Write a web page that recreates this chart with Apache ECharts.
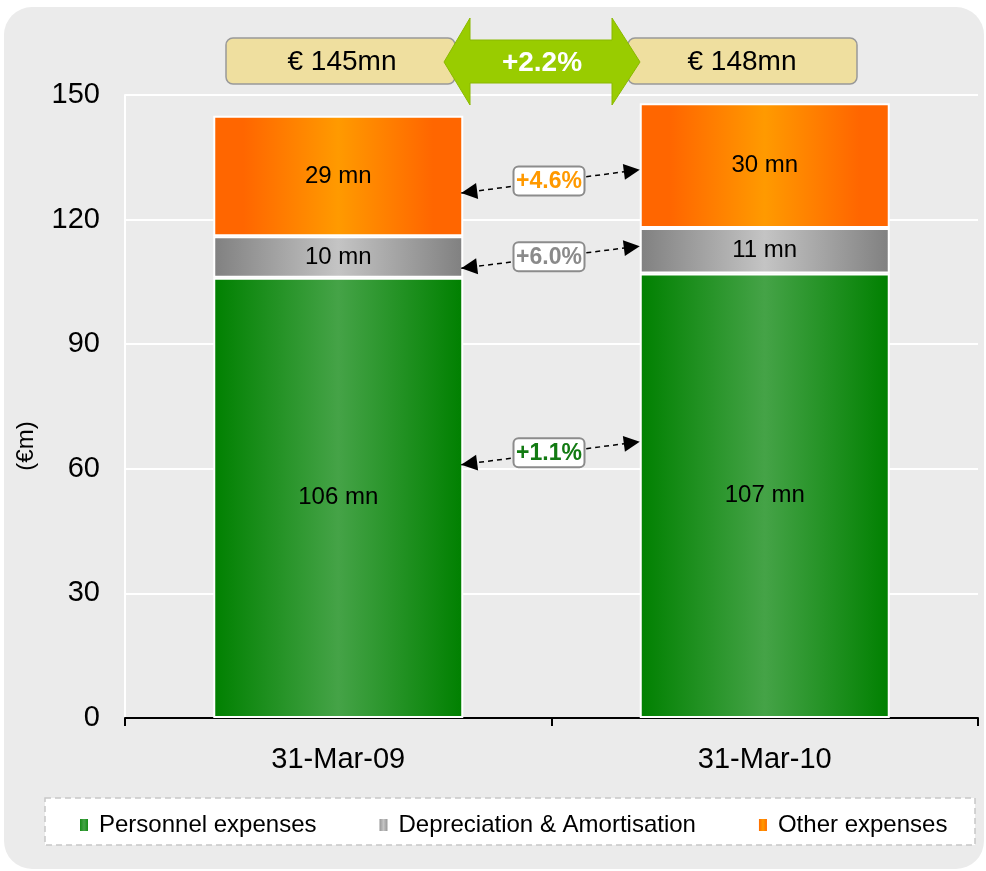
<!DOCTYPE html>
<html>
<head>
<meta charset="utf-8">
<script src="https://cdn.jsdelivr.net/npm/echarts@6/dist/echarts.min.js"></script>
<style>
  html, body { margin: 0; padding: 0; background: #ffffff; }
  #panel { position: absolute; left: 4px; top: 7px; width: 980px; height: 862px;
           background: #ebebeb; border-radius: 28px; }
  #chart { position: absolute; left: 0; top: 0; width: 986px; height: 871px; }
</style>
</head>
<body>
<div id="panel"></div>
<div id="chart"></div>
<script>
// Operating expenses by component (€ mn)
const categories = ['31-Mar-09', '31-Mar-10'];
const personnel = [106, 107];
const depreciation = [10, 11];
const other = [29, 30];
const seriesNames = ['Personnel expenses', 'Depreciation & Amortisation', 'Other expenses'];
const yTicks = { min: 0, max: 150, interval: 30 };
const yAxisTitle = '(€m)';

// Totals and year-on-year changes shown as annotations
const totalLabels = ['€ 145mn', '€ 148mn'];
const totalChange = '+2.2%';
const changeLabels = ['+1.1%', '+6.0%', '+4.6%'];
const changeColors = ['#127a12', '#8a8a8a', '#ff9900'];
// value-axis anchors for the dashed change arrows (left end, right end)
const arrowLeftY = [61, 108.3, 126.4];
const arrowRightY = [66.5, 113.6, 132];

const FONT = 'Liberation Sans, Arial, sans-serif';
const BAR_W = 250;

function hGrad(edge, mid) {
  return new echarts.graphic.LinearGradient(0, 0, 1, 0, [
    { offset: 0, color: edge },
    { offset: 0.12, color: edge },
    { offset: 0.5, color: mid },
    { offset: 0.88, color: edge },
    { offset: 1, color: edge }
  ]);
}
const colPersonnel = new echarts.graphic.LinearGradient(0, 0, 1, 0, [
  { offset: 0, color: '#008000' }, { offset: 0.5, color: '#45a347' }, { offset: 1, color: '#008000' }
]);
const colDep = new echarts.graphic.LinearGradient(0, 0, 1, 0, [
  { offset: 0, color: '#808080' }, { offset: 0.5, color: '#c4c4c4' }, { offset: 1, color: '#808080' }
]);
const colOther = hGrad('#ff6600', '#ff9a00');

function barSeries(name, data, color) {
  return {
    name, type: 'bar', stack: 'total', data, barWidth: BAR_W,
    itemStyle: { color, borderColor: '#ffffff', borderWidth: 2 },
    label: { show: true, position: 'inside', formatter: '{c} mn',
             fontFamily: FONT, fontSize: 24, color: '#000000' },
    emphasis: { disabled: true }
  };
}

const chart = echarts.init(document.getElementById('chart'), null, { renderer: 'canvas' });
chart.setOption({
  backgroundColor: 'transparent',
  animation: false,
  textStyle: { fontFamily: FONT },
  grid: { left: 125, right: 8, top: 95, bottom: 153, containLabel: false },
  xAxis: {
    type: 'category', data: categories,
    axisLine: { lineStyle: { color: '#000000', width: 2 } },
    axisTick: { show: true, length: 8, lineStyle: { color: '#000000', width: 2 } },
    axisLabel: { fontFamily: FONT, fontSize: 29, color: '#000000', margin: 27 }
  },
  yAxis: {
    type: 'value', min: yTicks.min, max: yTicks.max, interval: yTicks.interval,
    axisLine: { show: true, lineStyle: { color: '#ffffff', width: 2 } },
    axisTick: { show: false },
    splitLine: { lineStyle: { color: '#ffffff', width: 2 } },
    axisLabel: { fontFamily: FONT, fontSize: 29, color: '#000000', margin: 25 }
  },
  legend: {
    left: 73, top: 808, icon: 'rect', itemWidth: 10, itemHeight: 14, itemGap: 61,
    textStyle: { fontFamily: FONT, fontSize: 24, color: '#000000', padding: [0, 0, 0, 5] },
    data: seriesNames
  },
  series: [
    barSeries(seriesNames[0], personnel, colPersonnel),
    barSeries(seriesNames[1], depreciation, colDep),
    barSeries(seriesNames[2], other, colOther)
  ]
});

// Annotation layer: axis title, legend frame, total boxes, growth arrow, change markers
const g = [];
g.push({
  type: 'text', z: 5, x: 26, y: 446, rotation: Math.PI / 2,
  style: { text: yAxisTitle, fontFamily: FONT, fontSize: 24, fill: '#000000',
           align: 'center', verticalAlign: 'middle' }
});
g.push({
  type: 'rect', z: -10, shape: { x: 45, y: 798, width: 930, height: 47 },
  style: { fill: '#ffffff', stroke: '#c8c8c8', lineWidth: 1.5, lineDash: [6, 4] }
});

const boxes = [{ x: 226, w: 229 }, { x: 628, w: 229 }];
boxes.forEach((b, i) => {
  g.push({
    type: 'rect', z: 10, shape: { x: b.x, y: 38, width: b.w, height: 46, r: 7 },
    style: { fill: '#efdf9f', stroke: '#999999', lineWidth: 1.5 }
  });
  g.push({
    type: 'text', z: 11, x: i === 0 ? 342 : 742, y: 62,
    style: { text: totalLabels[i], fontFamily: FONT, fontSize: 28, fill: '#000000',
             align: 'center', verticalAlign: 'middle' }
  });
});
g.push({
  type: 'polygon', z: 12,
  shape: { points: [[444, 62], [470, 18], [470, 40], [612, 40], [612, 18], [640, 62],
                    [612, 105], [612, 83], [470, 83], [470, 105]] },
  style: { fill: '#99cc00', stroke: '#8ab800', lineWidth: 1 }
});
g.push({
  type: 'text', z: 13, x: 542, y: 63,
  style: { text: totalChange, fontFamily: FONT, fontSize: 28, fontWeight: 'bold',
           fill: '#ffffff', align: 'center', verticalAlign: 'middle' }
});

const cx0 = chart.convertToPixel({ xAxisIndex: 0 }, categories[0]);
const cx1 = chart.convertToPixel({ xAxisIndex: 0 }, categories[1]);
const xL = cx0 + BAR_W / 2 - 2;
const xR = cx1 - BAR_W / 2;
const mid = (xL + xR) / 2 - 2;

function head(tip, from, len, half) {
  const dx = tip[0] - from[0], dy = tip[1] - from[1];
  const d = Math.hypot(dx, dy), ux = dx / d, uy = dy / d;
  const bx = tip[0] - ux * len, by = tip[1] - uy * len;
  return [tip, [bx - uy * half, by + ux * half], [bx + uy * half, by - ux * half]];
}

changeLabels.forEach((txt, i) => {
  const yl = chart.convertToPixel({ yAxisIndex: 0 }, arrowLeftY[i]);
  const yr = chart.convertToPixel({ yAxisIndex: 0 }, arrowRightY[i]);
  const a = [xL, yl], b = [xR, yr];
  g.push({
    type: 'line', z: 14, shape: { x1: a[0], y1: a[1], x2: b[0], y2: b[1] },
    style: { stroke: '#000000', lineWidth: 1.5, lineDash: [5, 4] }
  });
  g.push({ type: 'polygon', z: 15, shape: { points: head(a, b, 16, 8) }, style: { fill: '#000000' } });
  g.push({ type: 'polygon', z: 15, shape: { points: head(b, a, 16, 8) }, style: { fill: '#000000' } });
  const my = (yl + yr) / 2 - 1;
  g.push({
    type: 'rect', z: 16, shape: { x: mid - 35, y: my - 14, width: 71, height: 29, r: 5 },
    style: { fill: '#ffffff', stroke: '#8c8c8c', lineWidth: 2 }
  });
  g.push({
    type: 'text', z: 17, x: mid + 0.5, y: my + 1,
    style: { text: txt, fontFamily: FONT, fontSize: 23, fontWeight: 'bold',
             fill: changeColors[i], align: 'center', verticalAlign: 'middle' }
  });
});

chart.setOption({ graphic: g });
</script>
</body>
</html>
